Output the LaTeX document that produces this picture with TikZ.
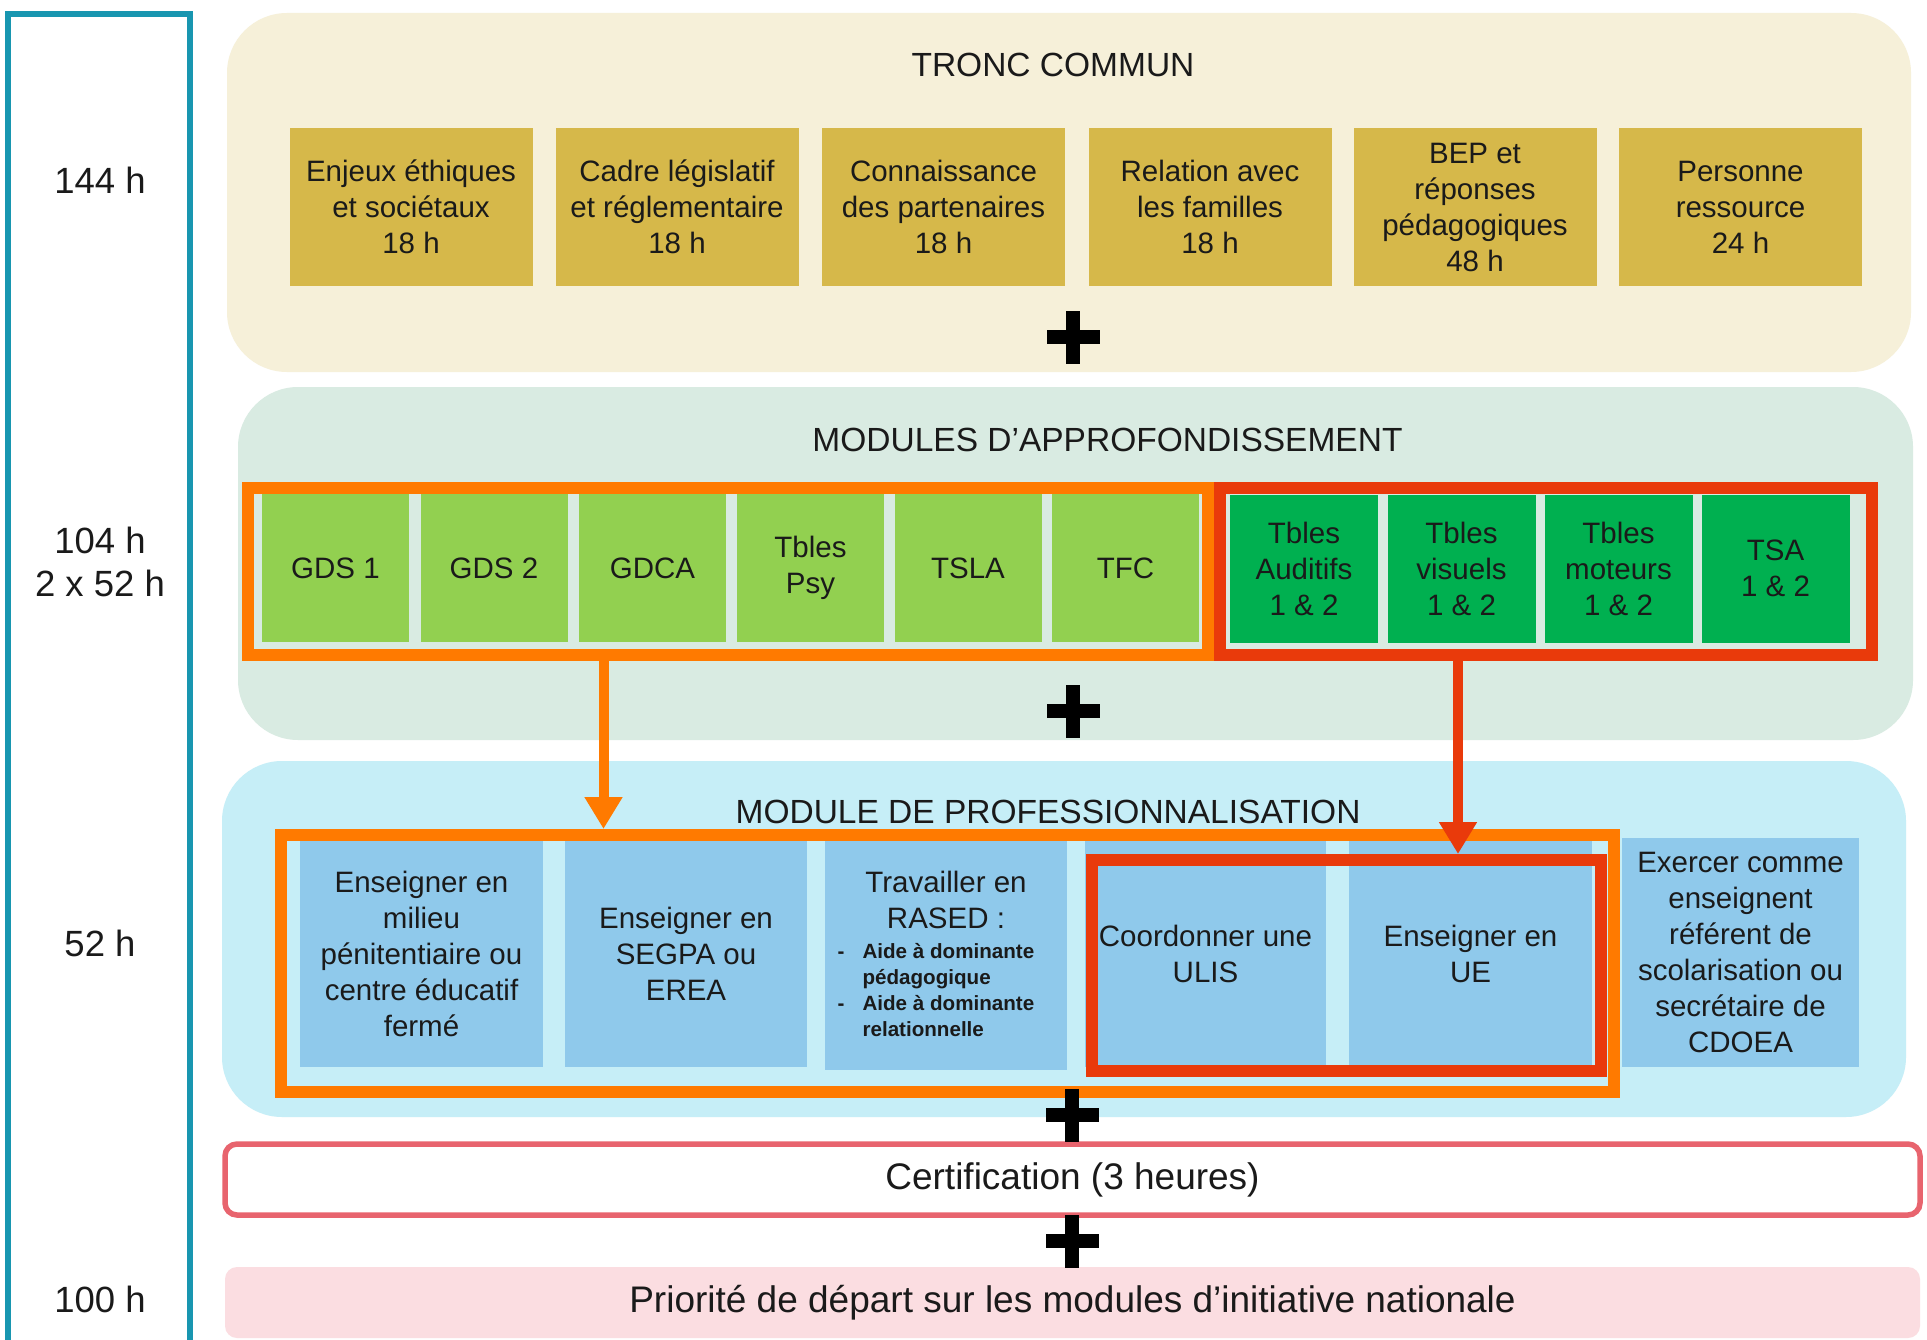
\documentclass[tikz,border=0pt]{standalone}
\usepackage{fontspec}
\setmainfont{Liberation Sans}
\usetikzlibrary{arrows.meta}
\definecolor{tealc}{RGB}{24,150,176}
\definecolor{beigec}{RGB}{246,240,217}
\definecolor{goldc}{RGB}{214,184,74}
\definecolor{mintc}{RGB}{217,235,226}
\definecolor{lgreenc}{RGB}{146,208,80}
\definecolor{dgreenc}{RGB}{0,176,80}
\definecolor{orangec}{RGB}{255,122,0}
\definecolor{redc}{RGB}{233,58,11}
\definecolor{skyc}{RGB}{198,238,247}
\definecolor{bluec}{RGB}{143,201,235}
\definecolor{certc}{RGB}{232,100,110}
\definecolor{prioc}{RGB}{251,221,225}
\definecolor{txtc}{RGB}{26,26,26}
\newcommand\setfs[2]{\fontsize{#1}{#2}\selectfont}
\begin{document}
\begin{tikzpicture}[x=1pt,y=-1pt,
  panel/.style={draw=none, rounded corners=60pt, inner sep=0pt},
  cellbox/.style={inner sep=0pt, align=center, text=txtc, font=\setfs{29.5}{36}},
  goldbox/.style={cellbox, fill=goldc, minimum width=243pt, minimum height=158pt},
  lgbox/.style={cellbox, fill=lgreenc, minimum width=147pt, minimum height=148pt},
  dgbox/.style={cellbox, fill=dgreenc, minimum width=148pt, minimum height=148pt},
  bluebox/.style={cellbox, fill=bluec, minimum width=242pt, minimum height=226pt},
  frameo/.style={draw=orangec, line width=12pt, inner sep=0pt},
  framer/.style={draw=redc, line width=12pt, inner sep=0pt},
  title/.style={inner sep=0pt, text=txtc, font=\setfs{33.5}{40}},
  hours/.style={inner sep=0pt, text=txtc, align=center, font=\setfs{36.5}{43}},
  conn/.style={line width=10pt, -{Triangle[width=36pt,length=32pt]}},
  plussign/.pic={\fill[black] (-26.5,-7) rectangle (26.5,7); \fill[black] (-7,-26.5) rectangle (7,26.5);}
]
\useasboundingbox (0,0) rectangle (1927,1340);
\fill[white] (0,0) rectangle (1927,1340);

% left time column
\draw[tealc, line width=5.5pt] (8,14) rectangle (190,1400);
\node[hours] (h144) at (100,180) {144 h};
\node[hours] (h104) at (100,562) {104 h\\2 x 52 h};
\node[hours] (h52) at (100,943) {52 h};
\node[hours] (h100) at (100,1299) {100 h};

% panels
\node[panel, fill=beigec, minimum width=1684pt, minimum height=359pt] (tc) at (1069,192.5) {};
\node[panel, fill=mintc, minimum width=1675pt, minimum height=353pt] (ma) at (1075.5,563.5) {};
\node[panel, fill=skyc, minimum width=1684pt, minimum height=356pt] (mp) at (1064,939) {};

% TRONC COMMUN
\node[title] (tct) at (1053,65) {TRONC COMMUN};
\node[goldbox] (g1) at (411,207) {Enjeux éthiques\\et sociétaux\\18 h};
\node[goldbox] (g2) at (677,207) {Cadre législatif\\et réglementaire\\18 h};
\node[goldbox] (g3) at (943.5,207) {Connaissance\\des partenaires\\18 h};
\node[goldbox] (g4) at (1210,207) {Relation avec\\les familles\\18 h};
\node[goldbox] (g5) at (1475,207) {BEP et\\réponses\\pédagogiques\\48 h};
\node[goldbox] (g6) at (1740.5,207) {Personne\\ressource\\24 h};

% MODULES D'APPROFONDISSEMENT
\node[title] (mat) at (1107.5,440) {MODULES D’APPROFONDISSEMENT};
\node[lgbox] (a1) at (335.5,568) {GDS 1};
\node[lgbox] (a2) at (494,568) {GDS 2};
\node[lgbox] (a3) at (652.5,568) {GDCA};
\node[lgbox] (a4) at (810.5,568) {Tbles\\Psy};
\node[lgbox] (a5) at (968,568) {TSLA};
\node[lgbox] (a6) at (1125.5,568) {TFC};
\node[dgbox] (b1) at (1304,568.5) {Tbles\\Auditifs\\1 \& 2};
\node[dgbox] (b2) at (1461.5,568.5) {Tbles\\visuels\\1 \& 2};
\node[dgbox] (b3) at (1618.5,568.5) {Tbles\\moteurs\\1 \& 2};
\node[dgbox] (b4) at (1775.5,568.5) {TSA\\1 \& 2};
\node[frameo, minimum width=960pt, minimum height=167pt] (ofa) at (728,571) {};
\node[framer, minimum width=652.5pt, minimum height=167pt] (rfa) at (1546,571.5) {};

% MODULE DE PROFESSIONNALISATION
\node[title] (mpt) at (1048,812) {MODULE DE PROFESSIONNALISATION};
\node[bluebox, minimum width=243pt] (p1) at (421.5,954) {Enseigner en\\milieu\\pénitentiaire ou\\centre éducatif\\fermé};
\node[bluebox] (p2) at (686,954) {Enseigner en\\SEGPA ou\\EREA};
\node[bluebox, minimum height=229pt] (p3) at (946,955.5) {};
\node[cellbox] (p3t) at (946,900) {Travailler en\\RASED :};
\node[inner sep=0pt, anchor=west, text=txtc, font=\setfs{20.6}{26}\bfseries] (p3l) at (837.5,992)
  {\begin{tabular}{@{}l@{\hspace{18pt}}l@{}}- & Aide à dominante\\ & pédagogique\\- & Aide à dominante\\ & relationnelle\end{tabular}};
\node[bluebox, minimum width=241pt] (p4) at (1205.5,954) {Coordonner une\\ULIS};
\node[bluebox, minimum width=243pt] (p5) at (1470.5,954) {Enseigner en\\UE};
\node[bluebox, minimum width=237pt, minimum height=229pt] (p6) at (1740.5,952.5) {Exercer comme\\enseignent\\référent de\\scolarisation ou\\secrétaire de\\CDOEA};
\node[frameo, minimum width=1333pt, minimum height=257pt] (ofp) at (947.5,963.5) {};
\node[framer, minimum width=509pt, minimum height=211pt] (rfp) at (1346,965.5) {};

% connectors
\coordinate (xo) at (603.5,0);
\coordinate (xr) at (1458,0);
\draw[conn, orangec] (ofa.south -| xo) -- (ofp.north -| xo);
\draw[conn, redc] (rfa.south -| xr) -- (rfp.north -| xr);

% certification and priority
\node[draw=certc, line width=5.5pt, fill=white, rounded corners=12pt, minimum width=1695pt, minimum height=71pt, inner sep=0pt, text=txtc, font=\setfs{37}{44}] (cert) at (1072.5,1179.5) {Certification (3 heures)};
\node[fill=prioc, rounded corners=12pt, minimum width=1695pt, minimum height=71pt, inner sep=0pt, text=txtc, font=\setfs{37}{44}] (prio) at (1072.5,1302.5) {Priorité de départ sur les modules d’initiative nationale};

% plus signs
\pic at (1073,337) {plussign};
\pic at (1073,711) {plussign};
\pic at (1072,1115) {plussign};
\pic at (1072,1241) {plussign};
\end{tikzpicture}
\end{document}
